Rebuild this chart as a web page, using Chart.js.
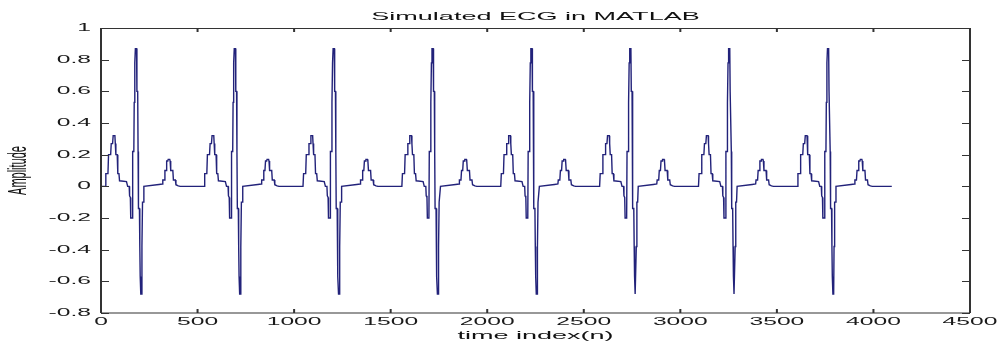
<!DOCTYPE html>
<html>
<head>
<meta charset="utf-8">
<script src="https://cdn.jsdelivr.net/npm/chart.js@4.4.1/dist/chart.umd.min.js"></script>
<style>
html,body{margin:0;padding:0;background:#ffffff;}
#wrap{width:999px;height:344px;position:relative;}
canvas{display:block;}
</style>
</head>
<body>
<div id="wrap"><canvas id="c" width="999" height="344" style="width:999px;height:344px"></canvas></div>
<script>
// ---- texts ----
const chartTitle = 'Simulated ECG in MATLAB';
const xAxisTitle = 'time index(n)';
const yAxisTitle = 'Amplitude';

// ---- tick values ----
const xTickValues = [0, 500, 1000, 1500, 2000, 2500, 3000, 3500, 4000, 4500];
const yTickValues = [-0.8, -0.6, -0.4, -0.2, 0, 0.2, 0.4, 0.6, 0.8, 1];

// ---- data ----
// start sample of each of the 8 heartbeats
const beatStarts = [0, 512, 1024, 1536, 2048, 2560, 3072, 3584];
// vertices of one beat (sample offset within the beat, amplitude)
const beatOffsets = [0,22,25,36,39,50,53,60,63,72,74,77,84,87,93,96,132,138,146,148,152,154,162,164,170,172,175,178,184,186,190,192,194,199,201,203,206,210,212,215,219,222,300,318,320,328,331,337,340,346,348,356,358,361,372,375,385,388,400,410];
const beatAmplitudes = [0,0,0.08,0.08,0.2,0.2,0.27,0.27,0.32,0.32,0.27,0.2,0.2,0.08,0.08,0.035,0.03,0,0,-0.06,-0.07,-0.2,-0.2,0.22,0.22,0.53,0.78,0.87,0.87,0.6,0.6,0.22,-0.14,-0.14,-0.38,-0.57,-0.68,-0.68,-0.38,-0.1,-0.1,0,0.012,0.015,0.04,0.04,0.1,0.1,0.16,0.16,0.17,0.17,0.16,0.1,0.1,0.04,0.04,0.01,0.003,0];
const lastSample = 4095;
const lastAmplitude = 0;

const points = [];
beatStarts.forEach(start => {
  beatOffsets.forEach((off, i) => points.push({x: start + off, y: beatAmplitudes[i]}));
});
points.push({x: lastSample, y: lastAmplitude});

// ---- canvas: all text is horizontally stretched in the reference picture ----
const canvas = document.getElementById('c');
const ctx = canvas.getContext('2d');
const TEXT_STRETCH = 2.35;
const origFillText = ctx.fillText.bind(ctx);
ctx.fillText = function (text, x, y) {
  const T = ctx.getTransform();
  const p = T.transformPoint(new DOMPoint(x, y));
  const S = new DOMMatrix().translate(p.x, p.y).scale(TEXT_STRETCH, 1).translate(-p.x, -p.y);
  ctx.setTransform(S.multiply(T));
  origFillText(text, x, y);
  ctx.setTransform(T);
};

const FONT = "'Liberation Sans', Arial, Helvetica, sans-serif";

const boxPlugin = {
  id: 'matlabBox',
  afterDraw(chart) {
    const {ctx, chartArea: a, scales} = chart;
    ctx.save();
    ctx.strokeStyle = '#333333';
    ctx.lineWidth = 1.2;
    ctx.beginPath();
    ctx.moveTo(a.left, a.top + 0.5); ctx.lineTo(a.right, a.top + 0.5);
    ctx.moveTo(a.left, a.bottom); ctx.lineTo(a.right, a.bottom);
    ctx.stroke();
    ctx.lineWidth = 2;
    ctx.beginPath();
    ctx.moveTo(a.left, a.top); ctx.lineTo(a.left, a.bottom);
    ctx.moveTo(a.right, a.top); ctx.lineTo(a.right, a.bottom);
    ctx.stroke();
    ctx.lineWidth = 2;
    ctx.beginPath();
    xTickValues.forEach(v => {
      const px = scales.x.getPixelForValue(v);
      ctx.moveTo(px, a.bottom); ctx.lineTo(px, a.bottom - 4);
      ctx.moveTo(px, a.top); ctx.lineTo(px, a.top + 4);
    });
    ctx.stroke();
    ctx.lineWidth = 1.2;
    ctx.beginPath();
    yTickValues.forEach(v => {
      const py = Math.round(scales.y.getPixelForValue(v)) + 0.5;
      ctx.moveTo(a.left, py); ctx.lineTo(a.left + 8, py);
      ctx.moveTo(a.right, py); ctx.lineTo(a.right - 8, py);
    });
    ctx.stroke();
    ctx.restore();
  }
};

new Chart(canvas, {
  type: 'line',
  data: {
    datasets: [{
      data: points,
      borderColor: '#22227a',
      borderWidth: 1.4,
      pointRadius: 0,
      tension: 0,
      fill: false
    }]
  },
  options: {
    responsive: false,
    animation: false,
    events: [],
    layout: {padding: {left: 0, right: 29, top: 0, bottom: 0}},
    plugins: {
      legend: {display: false},
      tooltip: {enabled: false},
      title: {
        display: true,
        text: chartTitle,
        fullSize: false,
        color: '#111111',
        font: {family: FONT, size: 11.5, weight: 'normal', lineHeight: 1.2},
        padding: {top: 10.4, bottom: 3.8}
      }
    },
    scales: {
      x: {
        type: 'linear',
        min: 0,
        max: 4500,
        afterBuildTicks: s => { s.ticks = xTickValues.map(v => ({value: v})); },
        afterFit: s => { s.height = 31; },
        grid: {display: false, drawTicks: false},
        border: {display: false},
        ticks: {
          padding: 3, maxRotation: 0, autoSkip: false, color: '#1a1a1a',
          font: {family: FONT, size: 10.5},
          callback: v => String(v)
        },
        title: {
          display: true, text: xAxisTitle, color: '#111111',
          font: {family: FONT, size: 11.5, lineHeight: 1.2},
          padding: {top: 0, bottom: 1.2}
        }
      },
      y: {
        type: 'linear',
        min: -0.8,
        max: 1,
        afterBuildTicks: s => { s.ticks = yTickValues.map(v => ({value: v})); },
        afterFit: s => { s.width = 101; },
        grid: {display: false, drawTicks: false},
        border: {display: false},
        ticks: {
          padding: 10, autoSkip: false, color: '#1a1a1a',
          font: {family: FONT, size: 10.5},
          callback: v => { const r = Math.round(v * 10) / 10; return r === 0 ? '0' : String(r); }
        },
        title: {
          display: true, text: yAxisTitle, color: '#111111',
          font: {family: FONT, size: 11, lineHeight: 1.2},
          padding: {top: 12.5, bottom: 0}
        }
      }
    }
  },
  plugins: [boxPlugin]
});
</script>
</body>
</html>
